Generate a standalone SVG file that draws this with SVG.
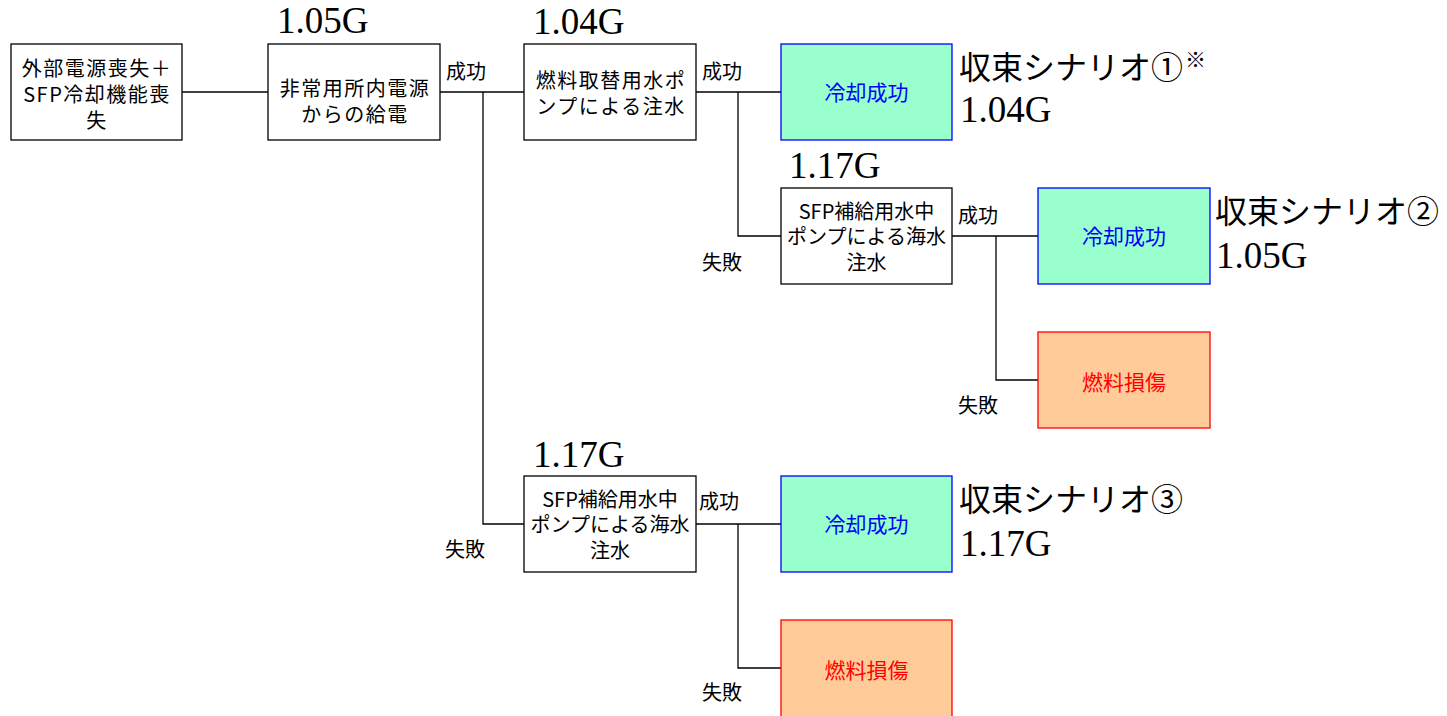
<svg xmlns="http://www.w3.org/2000/svg" width="1447" height="716" viewBox="0 0 1447 716">
<style>
.box{fill:#fff;stroke:#000;stroke-width:1.3}
.ok{fill:#99FFCC;stroke:#0000FF;stroke-width:1.3}
.ng{fill:#FFCC99;stroke:#FF0000;stroke-width:1.3}
.t{font-family:"Noto Sans CJK JP","Noto Sans",sans-serif;font-size:21px;fill:#000;text-anchor:middle}
.m{font-size:20px;letter-spacing:1.5px}
.s{font-size:20px}
.lbl{font-family:"Noto Sans CJK JP","Noto Sans",sans-serif;font-size:20px;fill:#000}
.tb{fill:#0000FF}
.tr{fill:#FF0000}
.num{font-family:"Liberation Serif","Times New Roman",serif;font-size:37px;fill:#000}
.sc{font-family:"Noto Sans CJK JP","Noto Sans",sans-serif;font-size:32px;fill:#000}
.ln{fill:none;stroke:#000;stroke-width:1.3}
</style>
<g id="connectors">
<path class="ln" d="M182 92H268"/>
<path class="ln" d="M440 92H524"/>
<path class="ln" d="M483 92V524H524"/>
<path class="ln" d="M696 92H781"/>
<path class="ln" d="M738 92V236H781"/>
<path class="ln" d="M952 236H1038"/>
<path class="ln" d="M996 236V380H1038"/>
<path class="ln" d="M696 524H781"/>
<path class="ln" d="M738 524V668H781"/>
</g>
<g id="labels">
<text class="lbl" x="446" y="79">成功</text>
<text class="lbl" x="702" y="79">成功</text>
<text class="lbl" x="702" y="270">失敗</text>
<text class="lbl" x="958" y="223">成功</text>
<text class="lbl" x="958" y="413">失敗</text>
<text class="lbl" x="699" y="509">成功</text>
<text class="lbl" x="445" y="557">失敗</text>
<text class="lbl" x="702" y="700">失敗</text>
</g>
<g id="n1">
<rect class="box" x="11" y="44" width="171" height="96"/>
<text class="t m" x="97" y="76">外部電源喪失＋<tspan x="97" dy="26">SFP冷却機能喪</tspan><tspan x="97" dy="26">失</tspan></text>
</g>
<g id="n2">
<text class="num" x="277" y="33">1.05G</text>
<rect class="box" x="268" y="44" width="172" height="96"/>
<text class="t m" x="355" y="96">非常用所内電源<tspan x="355" dy="25.5">からの給電</tspan></text>
</g>
<g id="n3">
<text class="num" x="533" y="34">1.04G</text>
<rect class="box" x="524" y="44" width="172" height="96"/>
<text class="t m" x="611" y="88">燃料取替用水ポ<tspan x="611" dy="26">ンプによる注水</tspan></text>
</g>
<g id="n4">
<rect class="ok" x="781" y="44" width="171" height="96"/>
<text class="t tb" x="866.5" y="100">冷却成功</text>
<text class="sc" x="959" y="79">収束シナリオ①<tspan font-size="21" dx="2" dy="-12">※</tspan></text>
<text class="num" x="960" y="122">1.04G</text>
</g>
<g id="n5">
<text class="num" x="789" y="178">1.17G</text>
<rect class="box" x="781" y="188" width="171" height="96"/>
<text class="t s" x="866.5" y="218.5">SFP補給用水中<tspan x="866.5" dy="25.5">ポンプによる海水</tspan><tspan x="866.5" dy="25.5">注水</tspan></text>
</g>
<g id="n6">
<rect class="ok" x="1038" y="188" width="172" height="96"/>
<text class="t tb" x="1124" y="244">冷却成功</text>
<text class="sc" x="1215" y="223">収束シナリオ②</text>
<text class="num" x="1216" y="268">1.05G</text>
</g>
<g id="n7">
<rect class="ng" x="1038" y="332" width="172" height="96"/>
<text class="t tr" x="1124" y="390">燃料損傷</text>
</g>
<g id="n8">
<text class="num" x="533" y="467">1.17G</text>
<rect class="box" x="524" y="476" width="172" height="96"/>
<text class="t s" x="610" y="506.5">SFP補給用水中<tspan x="610" dy="25.5">ポンプによる海水</tspan><tspan x="610" dy="25.5">注水</tspan></text>
</g>
<g id="n9">
<rect class="ok" x="781" y="476" width="171" height="96"/>
<text class="t tb" x="866.5" y="532">冷却成功</text>
<text class="sc" x="959" y="511">収束シナリオ③</text>
<text class="num" x="960" y="556">1.17G</text>
</g>
<g id="n10">
<rect class="ng" x="781" y="620" width="171" height="100"/>
<text class="t tr" x="866.5" y="678">燃料損傷</text>
</g>
</svg>
